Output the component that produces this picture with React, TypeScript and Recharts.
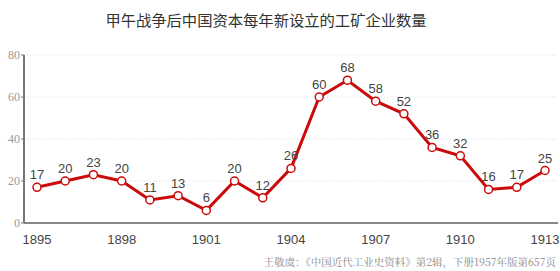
import React from "react";
import {
  LineChart,
  Line,
  XAxis,
  YAxis,
  CartesianGrid,
  LabelList
} from "recharts";

const years = [
  1895, 1896, 1897, 1898, 1899, 1900, 1901, 1902, 1903, 1904,
  1905, 1906, 1907, 1908, 1909, 1910, 1911, 1912, 1913
];
const counts = [17, 20, 23, 20, 11, 13, 6, 20, 12, 26, 60, 68, 58, 52, 36, 32, 16, 17, 25];
const xTicks = [1895, 1898, 1901, 1904, 1907, 1910, 1913];
const yTicks = [0, 20, 40, 60, 80];

const title = "甲午战争后中国资本每年新设立的工矿企业数量";
const source = "王敬虞：《中国近代工业史资料》第2辑，下册1957年版第657页";

const data = years.map((year, i) => ({ year, count: counts[i] }));

const App: React.FC = () => {
  return (
    <div style={{ position: "relative", width: 560, height: 271, background: "#fff" }}>
      <style>{`body{margin:0}`}</style>
      <div
        style={{
          position: "absolute",
          top: 8,
          left: 105,
          width: 322,
          textAlign: "center",
          fontFamily: "'Noto Sans CJK SC', sans-serif",
          fontSize: 15.3,
          color: "#333",
          whiteSpace: "nowrap"
        }}
      >
        {title}
      </div>
      <LineChart
        width={560}
        height={271}
        data={data}
        margin={{ top: 55, right: 2, bottom: 18, left: 0 }}
      >
        <CartesianGrid
          vertical={false}
          stroke="#dcdcdc"
          strokeDasharray="1 2"
        />
        <XAxis
          dataKey="year"
          type="number"
          domain={[1895, 1913]}
          ticks={xTicks}
          padding={{ left: 13, right: 13 }}
          height={30}
          tickLine={false}
          axisLine={{ stroke: "#888", strokeWidth: 2 }}
          tick={{ fill: "#444", fontSize: 13, fontFamily: "Arial, sans-serif" }}
          tickMargin={6}
        />
        <YAxis
          width={24}
          domain={[0, 80]}
          ticks={yTicks}
          tickSize={3}
          axisLine={{ stroke: "#777", strokeWidth: 2 }}
          tickLine={{ stroke: "#777" }}
          tick={{ fill: "#999", fontSize: 12, fontFamily: "'Liberation Serif', serif" }}
          tickMargin={1}
        />
        <Line
          type="linear"
          dataKey="count"
          stroke="#cc0a0a"
          strokeWidth={3}
          dot={{ r: 4, fill: "#fff", stroke: "#cc0a0a", strokeWidth: 1.5 }}
          isAnimationActive={false}
        >
          <LabelList
            dataKey="count"
            position="top"
            offset={8}
            style={{ fill: "#444", fontSize: 13, fontFamily: "Arial, sans-serif" }}
          />
        </Line>
      </LineChart>
      <div
        style={{
          position: "absolute",
          top: 254,
          right: 4,
          fontFamily: "'Noto Serif CJK SC', 'Noto Sans CJK SC', serif",
          fontSize: 10.5,
          color: "#888",
          whiteSpace: "nowrap"
        }}
      >
        {source}
      </div>
    </div>
  );
};

export default App;
